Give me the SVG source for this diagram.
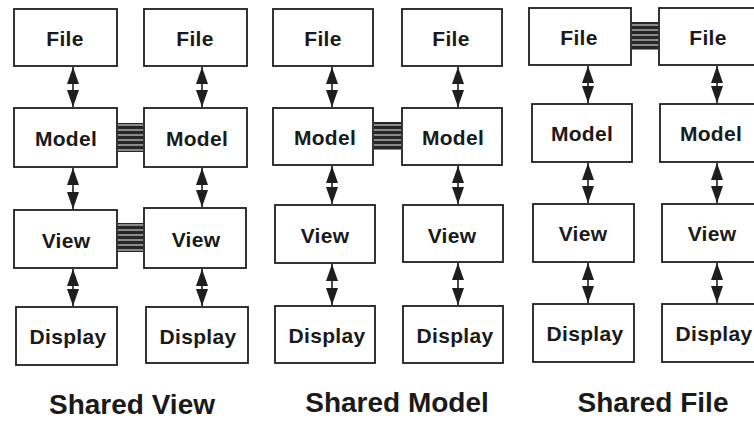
<svg xmlns="http://www.w3.org/2000/svg" width="754" height="423" viewBox="0 0 754 423">
  <style>
    .box { fill: #ffffff; stroke: #1e1e1e; stroke-width: 1.8; }
    .lbl { font-family: "Liberation Sans", Arial, Helvetica, sans-serif; font-weight: bold; font-size: 21px; fill: #1a1a1a; text-anchor: middle; letter-spacing: 0.3px; }
    .cap { font-family: "Liberation Sans", Arial, Helvetica, sans-serif; font-weight: bold; font-size: 28px; fill: #1a1a1a; text-anchor: middle; }
    .arrow { stroke: #1e1e1e; stroke-width: 1.6; fill: none; marker-start: url(#head-start); marker-end: url(#head-end); }
    .band { fill: url(#stripes); stroke: none; }
  </style>
  <defs>
    <marker id="head-end" viewBox="0 0 17 12" markerWidth="17" markerHeight="12" refX="17" refY="6" orient="auto" markerUnits="userSpaceOnUse">
      <path d="M0,0 L17,6 L0,12 Z" fill="#1e1e1e"/>
    </marker>
    <marker id="head-start" viewBox="0 0 17 12" markerWidth="17" markerHeight="12" refX="17" refY="6" orient="auto-start-reverse" markerUnits="userSpaceOnUse">
      <path d="M0,0 L17,6 L0,12 Z" fill="#1e1e1e"/>
    </marker>
    <pattern id="stripes" patternUnits="userSpaceOnUse" width="8" height="5">
      <rect width="8" height="5" fill="#8a8a8a"/>
      <rect y="1" width="8" height="3" fill="#262626"/>
    </pattern>
  </defs>

  <!-- Shared View -->
  <g id="sv-file-a"><rect class="box" x="14" y="9" width="103" height="57"/><text class="lbl" x="65" y="46">File</text></g>
  <g id="sv-model-a"><rect class="box" x="14" y="108" width="103" height="59"/><text class="lbl" x="66" y="146">Model</text></g>
  <g id="sv-view-a"><rect class="box" x="14" y="210" width="103" height="58"/><text class="lbl" x="66" y="248">View</text></g>
  <g id="sv-display-a"><rect class="box" x="16" y="307" width="101" height="58"/><text class="lbl" x="68" y="344">Display</text></g>
  <g id="sv-file-b"><rect class="box" x="144" y="9" width="103" height="57"/><text class="lbl" x="195" y="46">File</text></g>
  <g id="sv-model-b"><rect class="box" x="144" y="108" width="103" height="59"/><text class="lbl" x="197" y="146">Model</text></g>
  <g id="sv-view-b"><rect class="box" x="144" y="208" width="102" height="60"/><text class="lbl" x="196" y="247">View</text></g>
  <g id="sv-display-b"><rect class="box" x="146" y="307" width="102" height="56"/><text class="lbl" x="198" y="344">Display</text></g>
  <text class="cap" x="132" y="414">Shared View</text>

  <!-- Shared Model -->
  <g id="sm-file-a"><rect class="box" x="273" y="9" width="100" height="57"/><text class="lbl" x="323" y="46">File</text></g>
  <g id="sm-model-a"><rect class="box" x="273" y="108" width="100" height="57"/><text class="lbl" x="325" y="145">Model</text></g>
  <g id="sm-view-a"><rect class="box" x="275" y="205" width="100" height="58"/><text class="lbl" x="325" y="243">View</text></g>
  <g id="sm-display-a"><rect class="box" x="275" y="306" width="100" height="57"/><text class="lbl" x="327" y="343">Display</text></g>
  <g id="sm-file-b"><rect class="box" x="402" y="9" width="100" height="57"/><text class="lbl" x="451" y="46">File</text></g>
  <g id="sm-model-b"><rect class="box" x="402" y="108" width="100" height="57"/><text class="lbl" x="453" y="145">Model</text></g>
  <g id="sm-view-b"><rect class="box" x="403" y="205" width="100" height="57"/><text class="lbl" x="452" y="243">View</text></g>
  <g id="sm-display-b"><rect class="box" x="403" y="306" width="100" height="57"/><text class="lbl" x="455" y="343">Display</text></g>
  <text class="cap" x="397" y="412">Shared Model</text>

  <!-- Shared File -->
  <g id="sf-file-a"><rect class="box" x="529" y="8" width="102" height="57"/><text class="lbl" x="579" y="45">File</text></g>
  <g id="sf-model-a"><rect class="box" x="532" y="104" width="100" height="58"/><text class="lbl" x="582" y="141">Model</text></g>
  <g id="sf-view-a"><rect class="box" x="533" y="204" width="101" height="58"/><text class="lbl" x="583" y="241">View</text></g>
  <g id="sf-display-a"><rect class="box" x="533" y="304" width="101" height="58"/><text class="lbl" x="585" y="341">Display</text></g>
  <g id="sf-file-b"><rect class="box" x="659" y="8" width="110" height="57"/><text class="lbl" x="708" y="45">File</text></g>
  <g id="sf-model-b"><rect class="box" x="660" y="104" width="110" height="58"/><text class="lbl" x="711" y="141">Model</text></g>
  <g id="sf-view-b"><rect class="box" x="662" y="204" width="110" height="58"/><text class="lbl" x="712" y="241">View</text></g>
  <g id="sf-display-b"><rect class="box" x="662" y="304" width="110" height="58"/><text class="lbl" x="714" y="341">Display</text></g>
  <text class="cap" x="653" y="412">Shared File</text>

  <!-- connectors: two-way links and shared bands -->
  <g id="connectors">
    <line class="arrow" x1="73" y1="67" x2="73" y2="107"/>
    <line class="arrow" x1="73" y1="168" x2="73" y2="209"/>
    <line class="arrow" x1="73" y1="269" x2="73" y2="306"/>
    <line class="arrow" x1="202" y1="67" x2="202" y2="107"/>
    <line class="arrow" x1="202" y1="168" x2="202" y2="207"/>
    <line class="arrow" x1="202" y1="269" x2="202" y2="306"/>

    <line class="arrow" x1="332" y1="67" x2="332" y2="107"/>
    <line class="arrow" x1="332" y1="166" x2="332" y2="204"/>
    <line class="arrow" x1="332" y1="264" x2="332" y2="305"/>
    <line class="arrow" x1="458" y1="67" x2="458" y2="107"/>
    <line class="arrow" x1="458" y1="166" x2="458" y2="204"/>
    <line class="arrow" x1="458" y1="263" x2="458" y2="305"/>

    <line class="arrow" x1="588" y1="66" x2="588" y2="103"/>
    <line class="arrow" x1="588" y1="163" x2="588" y2="203"/>
    <line class="arrow" x1="588" y1="263" x2="588" y2="303"/>
    <line class="arrow" x1="717" y1="66" x2="717" y2="103"/>
    <line class="arrow" x1="717" y1="163" x2="717" y2="203"/>
    <line class="arrow" x1="717" y1="263" x2="717" y2="303"/>

    <rect class="band" x="117.9" y="123" width="25.2" height="29"/>
    <rect class="band" x="117.9" y="223" width="25.2" height="29"/>
    <rect class="band" x="373.9" y="122" width="27.2" height="28"/>
    <rect class="band" x="631.9" y="22" width="26.2" height="28"/>
  </g>
</svg>
